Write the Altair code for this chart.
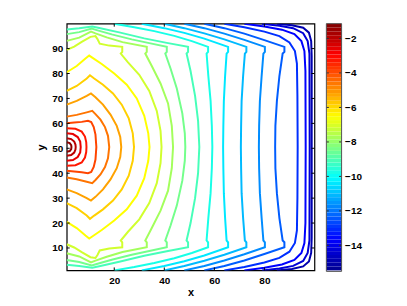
import altair as alt
import pandas as pd
import numpy as np

CMIN, CMAX = -15.45, -1.14

# contour levels (top level first)
levels = [-1.30, -1.95, -2.60, -3.25, -3.90, -4.55, -5.20, -5.85, -6.50,
          -7.15, -7.80, -8.45, -9.10, -9.75, -10.40, -11.05, -11.70, -12.35,
          -13.00, -13.65, -14.30, -14.95]

# lower half of every contour (x, y), from its edge end to the mid line y=50.5
halves = [
    [(1, 48.6), (2.2, 48.9), (2.8, 49.7), (2.9, 50.5)],
    [(1, 47.0), (2.8, 47.3), (4.0, 48.3), (4.5, 49.5), (4.6, 50.5)],
    [(1, 45.0), (3.5, 45.3), (5.4, 46.5), (6.4, 48.3), (6.6, 50.5)],
    [(1, 43.0), (4.5, 43.2), (7.0, 44.3), (8.3, 46.3), (8.8, 48.5), (8.9, 50.5)],
    [(1, 41.0), (4, 40.7), (7, 40.4), (9.5, 40.0), (10.8, 40.5), (11.8, 42.5), (12.5, 45.5), (12.85, 50.5)],
    [(1, 38.3), (5, 37.6), (9, 36.6), (11.2, 36.0), (12.5, 37.3), (14.5, 39.5), (16.3, 42.5), (17.5, 46), (18.0, 50.5)],
    [(1, 33.5), (5, 32), (9, 30), (10.7, 29.0), (12.5, 30.5), (15.5, 33.5), (18.5, 37.5), (21, 42), (22.4, 46.5), (22.8, 50.5)],
    [(1, 28), (5, 26), (9, 23), (10.3, 21.7), (12, 23), (15.5, 25.5), (19.5, 29), (23, 33.5), (25.8, 39), (27.4, 45), (27.9, 50.5)],
    [(1, 20.5), (5, 18), (8.5, 15), (10, 13.8), (11.5, 14.8), (15, 17.2), (20, 21), (25, 25.5), (29, 31), (32, 38), (33.6, 45), (34.1, 50.5)],
    [(1, 11.5), (4, 10.2), (7, 8.3), (10.5, 6.3), (12.5, 6.0), (13.3, 7.2), (14.2, 9.0), (18, 9.8), (23.2, 10.3), (23.2, 12.3), (22.6, 13), (25.5, 16.5), (30, 21.5), (34, 28), (37, 36), (38.5, 44), (38.9, 50.5)],
    [(1, 7.9), (6, 6.6), (10.7, 4.2), (12.5, 4.9), (17, 6.5), (23.3, 8.4), (33, 10.3), (33, 12.3), (32.4, 13), (35, 18), (38.5, 25), (41.5, 33), (43, 42), (43.5, 50.5)],
    [(1, 5.2), (6, 4.4), (11.0, 3.0), (13, 3.6), (19, 5.3), (27, 7.3), (34, 8.8), (41, 10.3), (41, 12.3), (40.4, 13), (42.5, 19), (45, 27), (47.2, 37), (48.2, 45), (48.4, 50.5)],
    [(1, 3.3), (6, 2.8), (11.2, 2.1), (14, 2.7), (22, 4.5), (32, 6.9), (41, 8.7), (49.5, 10.3), (49.5, 12.3), (48.9, 13), (50.5, 20), (52.3, 30), (53.5, 40), (54.0, 50.5)],
    [(20, 1.0), (28, 2.4), (36, 4.0), (44, 5.9), (51, 8.0), (57.5, 10.3), (57.5, 12.3), (56.9, 13), (57.6, 22), (58.5, 32), (59.0, 42), (59.2, 50.5)],
    [(31, 1.0), (40, 2.8), (48, 4.7), (56, 7.0), (65.5, 10.3), (65.5, 12.3), (64.9, 13), (64.3, 22), (63.8, 32), (63.6, 42), (63.5, 50.5)],
    [(40, 1.0), (48, 2.8), (56, 4.9), (64, 7.3), (72.8, 10.3), (72.8, 12.3), (72.2, 13), (71.5, 22), (70.9, 32), (70.7, 42), (70.6, 50.5)],
    [(48, 1.0), (56, 2.8), (64, 5.0), (72, 7.5), (80.2, 10.3), (80.2, 12.3), (79.6, 13), (78.9, 22), (78.2, 32), (77.9, 42), (77.8, 50.5)],
    [(56, 1.0), (64, 2.8), (72, 5.0), (80, 7.6), (88, 10.3), (88, 12.3), (87.3, 13), (86, 22), (85, 32), (84.4, 42), (84.3, 50.5)],
    [(64, 1.0), (72, 2.4), (80, 4.2), (86, 6.0), (90, 8.5), (92.2, 12), (93, 17), (93.2, 30), (93.3, 50.5)],
    [(72, 1.0), (80, 2.1), (87, 3.4), (92, 5.2), (94.8, 8), (96, 12), (96.4, 20), (96.5, 50.5)],
    [(79, 1.0), (86, 1.8), (91.5, 2.8), (95.5, 4.8), (97.3, 8), (98, 13), (98.1, 50.5)],
    [(85, 1.0), (91, 1.6), (95.5, 2.6), (97.8, 4.6), (98.7, 8), (98.9, 14), (98.9, 50.5)],
]

x_ticks = [20, 40, 60, 80]
y_ticks = [10, 20, 30, 40, 50, 60, 70, 80, 90]
cbar_ticks = [-14, -12, -10, -8, -6, -4, -2]

rows = []
for cid, (lev, half) in enumerate(zip(levels, halves)):
    full = list(half) + [(px, 101 - py) for (px, py) in reversed(half[:-1])]
    for o, (px, py) in enumerate(full):
        rows.append({"cid": cid, "level": lev, "o": o, "x": px, "y": py})
df = pd.DataFrame(rows)

edges = np.linspace(CMIN, CMAX, 65)
bands = pd.DataFrame({"lo": edges[:-1], "hi": edges[1:], "mid": (edges[:-1] + edges[1:]) / 2})

jet_t = [0, 0.125, 0.375, 0.625, 0.875, 1.0]
jet_c = ["#00008f", "#0000ff", "#00ffff", "#ffff00", "#ff0000", "#800000"]
cscale = alt.Scale(domain=[CMIN + t * (CMAX - CMIN) for t in jet_t], range=jet_c, interpolate="rgb")

W, H = 249, 248
FONT = "Liberation Sans"
xs = alt.Scale(domain=[1, 100], nice=False, zero=False)
ys = alt.Scale(domain=[1, 100], nice=False, zero=False)
x_axis = alt.Axis(values=x_ticks, title="x", tickSize=0, domain=False, grid=False,
                  labelPadding=5, titlePadding=1)
y_axis = alt.Axis(values=y_ticks, title="y", tickSize=0, domain=False, grid=False,
                  labelPadding=4, titlePadding=5)

lines = alt.Chart(df).mark_line(strokeWidth=2, clip=True).encode(
    x=alt.X("x:Q", scale=xs, axis=x_axis),
    y=alt.Y("y:Q", scale=ys, axis=y_axis),
    color=alt.Color("level:Q", scale=cscale, legend=None),
    detail="cid:N",
    order="o:Q",
)

xt = pd.DataFrame({"x": x_ticks})
yt = pd.DataFrame({"y": y_ticks})
tick_col = "black"
xt_b = alt.Chart(xt).mark_rule(color=tick_col).encode(x=alt.X("x:Q", scale=xs, axis=x_axis), y=alt.value(H), y2=alt.value(H - 3))
xt_t = alt.Chart(xt).mark_rule(color=tick_col).encode(x=alt.X("x:Q", scale=xs, axis=x_axis), y=alt.value(0), y2=alt.value(3))
yt_l = alt.Chart(yt).mark_rule(color=tick_col).encode(y=alt.Y("y:Q", scale=ys, axis=y_axis), x=alt.value(0), x2=alt.value(3))
yt_r = alt.Chart(yt).mark_rule(color=tick_col).encode(y=alt.Y("y:Q", scale=ys, axis=y_axis), x=alt.value(W), x2=alt.value(W - 3))

main = alt.layer(lines, xt_b, xt_t, yt_l, yt_r)

CB_L, CB_R = 261, 276.3
cs = alt.Scale(domain=[CMIN, CMAX], nice=False, zero=False)
cb_axis = alt.Axis(orient="right", values=cbar_ticks, offset=CB_R - W, tickSize=0, domain=False,
                   grid=False, labelPadding=3, title=None)
cb_rects = alt.Chart(bands).mark_rect().encode(
    x=alt.value(CB_L), x2=alt.value(CB_R),
    y=alt.Y("lo:Q", scale=cs, axis=cb_axis),
    y2="hi:Q",
    color=alt.Color("mid:Q", scale=cscale, legend=None),
)
ct = pd.DataFrame({"lo": cbar_ticks})
cb_tl = alt.Chart(ct).mark_rule(color="#333333").encode(y=alt.Y("lo:Q", scale=cs, axis=cb_axis), x=alt.value(CB_L), x2=alt.value(CB_L + 2.5))
cb_tr = alt.Chart(ct).mark_rule(color="#333333").encode(y=alt.Y("lo:Q", scale=cs, axis=cb_axis), x=alt.value(CB_R), x2=alt.value(CB_R - 2.5))
cb_box = alt.Chart(pd.DataFrame({"a": [0]})).mark_rect(filled=False, stroke="#555555", strokeWidth=1).encode(
    x=alt.value(CB_L), x2=alt.value(CB_R), y=alt.value(0), y2=alt.value(H + 1))
cbar = alt.layer(cb_rects, cb_tl, cb_tr, cb_box)

chart = alt.layer(main, cbar).resolve_scale(y="independent").properties(
    width=W, height=H,
    autosize=alt.AutoSizeParams(type="none"),
    padding={"left": 59, "top": 15, "right": 85, "bottom": 30},
).configure_view(stroke="black", strokeWidth=1.2).configure_axis(
    labelFont=FONT, labelFontSize=10, labelFontWeight="bold", labelColor="black",
    titleFont=FONT, titleFontSize=11, titleFontWeight="bold", titleColor="black",
)

chart.save("out.html", embed_options={"renderer": "svg", "actions": False})
